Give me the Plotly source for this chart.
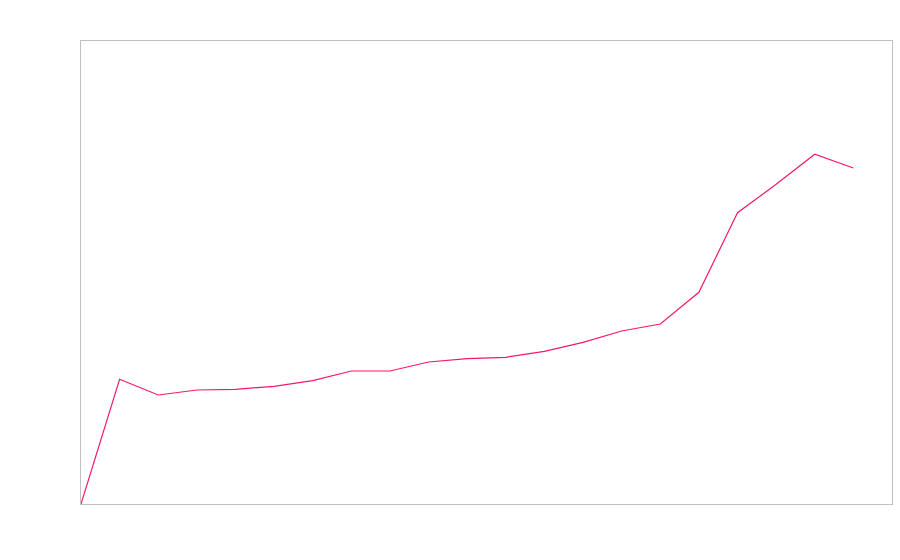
import plotly.graph_objects as go

x_index = list(range(21))
values = [0, 124.7, 109, 114, 114.7, 117.7, 123.3, 133, 133, 142, 145.3, 146.7,
          152.7, 161.7, 173, 180, 211.7, 291.3, 319.7, 349.7, 336]

fig = go.Figure(go.Scatter(x=x_index, y=values, mode="lines",
                           line=dict(color="#f5186a", width=1.2),
                           hoverinfo="skip", showlegend=False))

axis_common = dict(showgrid=False, zeroline=False, showticklabels=False, ticks="",
                   showline=True, linecolor="#c0c0c0", linewidth=1, mirror=True)
fig.update_layout(
    width=900, height=560,
    margin=dict(l=81, r=8, t=41, b=56),
    paper_bgcolor="white", plot_bgcolor="white",
    xaxis=dict(range=[0, 21], **axis_common),
    yaxis=dict(range=[0, 463], **axis_common),
)
fig.write_html("out.html",
               config={"displayModeBar": False},
               post_script="document.body.style.margin='0';document.body.style.overflow='hidden';")
